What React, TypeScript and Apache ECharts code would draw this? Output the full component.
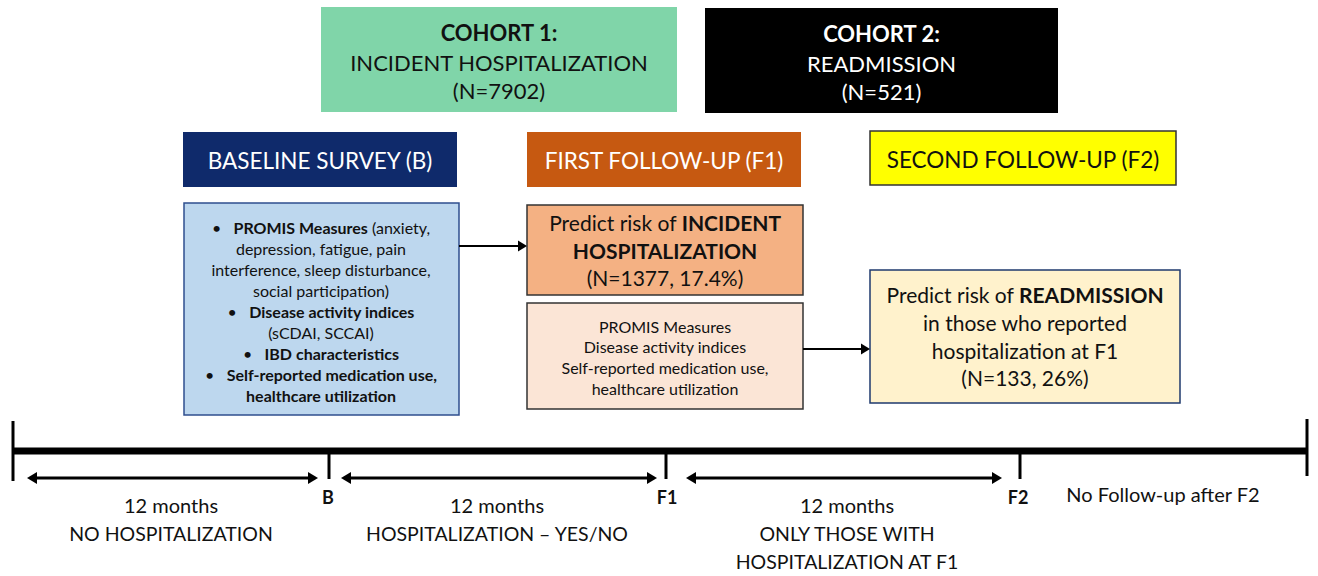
import React, { useEffect, useRef } from "react";
import * as echarts from "echarts";

const cohortTitles = ["COHORT 1:", "COHORT 2:"];
const cohortNames = ["INCIDENT HOSPITALIZATION", "READMISSION"];
const cohortN = [7902, 521];
const surveyLabels = ["BASELINE SURVEY (B)", "FIRST FOLLOW-UP (F1)", "SECOND FOLLOW-UP (F2)"];
const timepoints = ["B", "F1", "F2"];
const intervalMonths = [12, 12, 12];
const intervalNotes = [["NO HOSPITALIZATION"], ["HOSPITALIZATION – YES/NO"], ["ONLY THOSE WITH", "HOSPITALIZATION AT F1"]];
const baselineLines = [
  "•   {b|PROMIS Measures} (anxiety,",
  "depression, fatigue, pain",
  "interference, sleep disturbance,",
  "social participation)",
  "•   {b|Disease activity indices}",
  "(sCDAI, SCCAI)",
  "•   {b|IBD characteristics}",
  "•   {b|Self-reported medication use,}",
  "{b|healthcare utilization}",
];
const f1Measures = ["PROMIS Measures", "Disease activity indices", "Self-reported medication use,", "healthcare utilization"];
const incident = { n: 1377, pct: 17.4 };
const readmission = { n: 133, pct: 26 };
const noFollowUp = "No Follow-up after F2";

const FONT = "Lato, 'Open Sans', sans-serif";

function rect(x: number, y: number, w: number, h: number, fill: string, stroke?: string, lw = 1.5) {
  return {
    type: "rect",
    shape: { x, y, width: w, height: h },
    style: { fill, stroke: stroke || "none", lineWidth: stroke ? lw : 0 },
  };
}

function text(x: number, y: number, str: string, size: number, color: string, weight = "normal", align = "center", extra: any = {}) {
  return {
    type: "text",
    x,
    y,
    style: {
      text: str,
      fontSize: size,
      fontFamily: FONT,
      fontWeight: weight,
      fill: color,
      align,
      verticalAlign: "middle",
      ...extra,
    },
  };
}

function hline(x1: number, x2: number, y: number, lw: number) {
  return { type: "line", shape: { x1, y1: y, x2, y2: y }, style: { stroke: "#000", lineWidth: lw } };
}
function vline(x: number, y1: number, y2: number, lw: number) {
  return { type: "line", shape: { x1: x, y1, x2: x, y2 }, style: { stroke: "#000", lineWidth: lw } };
}
function headRight(x: number, y: number, s = 9) {
  return { type: "polygon", shape: { points: [[x, y], [x - s, y - s * 0.6], [x - s, y + s * 0.6]] }, style: { fill: "#000" } };
}
function headLeft(x: number, y: number, s = 9) {
  return { type: "polygon", shape: { points: [[x, y], [x + s, y - s * 0.6], [x + s, y + s * 0.6]] }, style: { fill: "#000" } };
}

export default function App() {
  const ref = useRef<HTMLDivElement>(null);
  useEffect(() => {
    document.body.style.margin = "0";
    const chart = echarts.init(ref.current!, undefined, { renderer: "svg" });
    const g: any[] = [];

    // Cohort boxes
    const cohortBoxes = [
      { x: 321, y: 7, w: 356, h: 105, fill: "#80d5a9", color: "#111" },
      { x: 705, y: 8, w: 353, h: 105, fill: "#000000", color: "#ffffff" },
    ];
    cohortBoxes.forEach((b, i) => {
      g.push(rect(b.x, b.y, b.w, b.h, b.fill));
      const cx = b.x + b.w / 2;
      g.push(text(cx, b.y + 25, cohortTitles[i], 22, b.color, "bold"));
      g.push(text(cx, b.y + 55, cohortNames[i], 22, b.color));
      g.push(text(cx, b.y + 83, `(N=${cohortN[i]})`, 22, b.color));
    });

    // Survey headers
    const headers = [
      { x: 183, y: 132, w: 274, h: 55, fill: "#0f2a6b", stroke: undefined, color: "#ffffff" },
      { x: 527, y: 132, w: 274, h: 55, fill: "#c65911", stroke: undefined, color: "#ffffff" },
      { x: 870, y: 131, w: 306, h: 54, fill: "#ffff00", stroke: "#333333", color: "#111" },
    ];
    headers.forEach((h, i) => {
      g.push(rect(h.x, h.y, h.w, h.h, h.fill, h.stroke, 1.5));
      g.push(text(h.x + h.w / 2, h.y + h.h / 2 + 1, surveyLabels[i], 22.5, h.color));
    });

    // Baseline detail box
    g.push(rect(184, 203, 275, 212, "#bdd7ee", "#2f4f8f", 1.5));
    baselineLines.forEach((l, i) => {
      g.push(
        text(321, 227 + i * 21, l, 16, "#111", "normal", "center", {
          rich: { b: { fontSize: 16, fontFamily: FONT, fontWeight: "bold", fill: "#111" } },
        })
      );
    });

    // Incident hospitalization box
    g.push(rect(527, 205, 276, 90, "#f4b183", "#333333", 1.5));
    const bRich = { rich: { b: { fontSize: 21, fontFamily: FONT, fontWeight: "bold", fill: "#111" } } };
    g.push(text(665, 222, "Predict risk of {b|INCIDENT}", 21, "#111", "normal", "center", bRich));
    g.push(text(665, 250, "{b|HOSPITALIZATION}", 21, "#111", "normal", "center", bRich));
    g.push(text(665, 277, `(N=${incident.n}, ${incident.pct}%)`, 21, "#111"));

    // F1 measures box
    g.push(rect(527, 303, 276, 106, "#fbe5d6", "#333333", 1.5));
    f1Measures.forEach((l, i) => g.push(text(665, 326 + i * 20.7, l, 16, "#111")));

    // Readmission box
    g.push(rect(870, 270, 310, 133, "#fff2cc", "#1f3a6e", 1.5));
    g.push(text(1025, 294, "Predict risk of {b|READMISSION}", 21, "#111", "normal", "center", bRich));
    g.push(text(1025, 322, "in those who reported", 21, "#111"));
    g.push(text(1025, 350, "hospitalization at F1", 21, "#111"));
    g.push(text(1025, 377, `(N=${readmission.n}, ${readmission.pct}%)`, 21, "#111"));

    // Connector arrows
    g.push(hline(459, 519, 246, 2));
    g.push(headRight(527, 246, 9));
    g.push(hline(803, 862, 349, 2));
    g.push(headRight(870, 349, 9));

    // Timeline
    g.push(hline(13, 1308, 451, 7));
    g.push(vline(13, 421, 481, 3));
    g.push(vline(1307, 419, 476, 3));
    const tickX = [329, 666, 1020];
    tickX.forEach((x) => g.push(vline(x, 451, 479, 3)));
    const labelX = [328, 667, 1018];
    timepoints.forEach((t, i) => g.push(text(labelX[i], 497, t, 18, "#111", "bold")));
    g.push(text(1163, 494, noFollowUp, 20, "#111"));

    // Interval arrows and labels
    const spans = [
      [27, 318],
      [341, 657],
      [686, 1002],
    ];
    const centers = [171, 497, 847];
    spans.forEach(([a, b], i) => {
      g.push(hline(a + 6, b - 6, 478, 3));
      g.push(headLeft(a, 478, 10));
      g.push(headRight(b, 478, 10));
      g.push(text(centers[i], 505, `${intervalMonths[i]} months`, 20, "#111"));
      intervalNotes[i].forEach((n, j) => g.push(text(centers[i], 533 + j * 28, n, 19.5, "#111")));
    });

    chart.setOption({ animation: false, graphic: g });
    return () => chart.dispose();
  }, []);
  return <div ref={ref} style={{ position: "fixed", left: 0, top: 0, width: 1318, height: 576, background: "#fff" }} />;
}
